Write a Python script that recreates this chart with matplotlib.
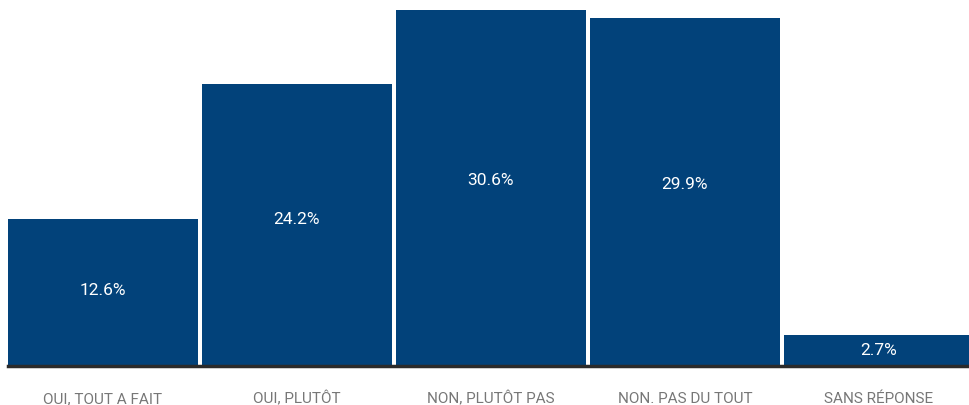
import matplotlib
matplotlib.use("Agg")
import matplotlib.pyplot as plt
import matplotlib.transforms as mtransforms
import numpy as np

categories = ["OUI, TOUT A FAIT", "OUI, PLUTÔT", "NON, PLUTÔT PAS", "NON. PAS DU TOUT", "SANS RÉPONSE"]
values = [12.6, 24.2, 30.6, 29.9, 2.7]
value_labels = ["12.6%", "24.2%", "30.6%", "29.9%", "2.7%"]

plt.rcParams["font.family"] = ["Roboto", "DejaVu Sans"]

W, H = 970, 406
fig = plt.figure(figsize=(W / 100, H / 100), dpi=100)
# pitch de 194 px par barre
ax = fig.add_axes([6 / W, 39 / H, 5 * 194 / W, 356 / H])

x = np.arange(len(categories))
ax.bar(x, values, width=190 / 194, color="#02427a", align="center")
ax.set_xlim(-0.5, 4.5)
ax.set_ylim(0, 30.6)

# etiquettes un peu au-dessus du milieu des barres
for xi, v, lab in zip(x, values, value_labels):
    ax.text(xi, v * 0.525, lab, color="white", ha="center", va="center",
            fontsize=12.5)

ax.axhline(0, xmin=2 / 970, color="#2b2b2b", linewidth=2.5, clip_on=False)

# categories sous l'axe
trans = mtransforms.blended_transform_factory(ax.transData, fig.transFigure)
for xi, cat in zip(x, categories):
    ax.text(xi, 2.5 / H, cat, transform=trans, color="#777777", ha="center",
            va="baseline", fontsize=11)

ax.set_xticks([])
ax.set_yticks([])
for s in ax.spines.values():
    s.set_visible(False)

fig.savefig("out.png", dpi=100)
